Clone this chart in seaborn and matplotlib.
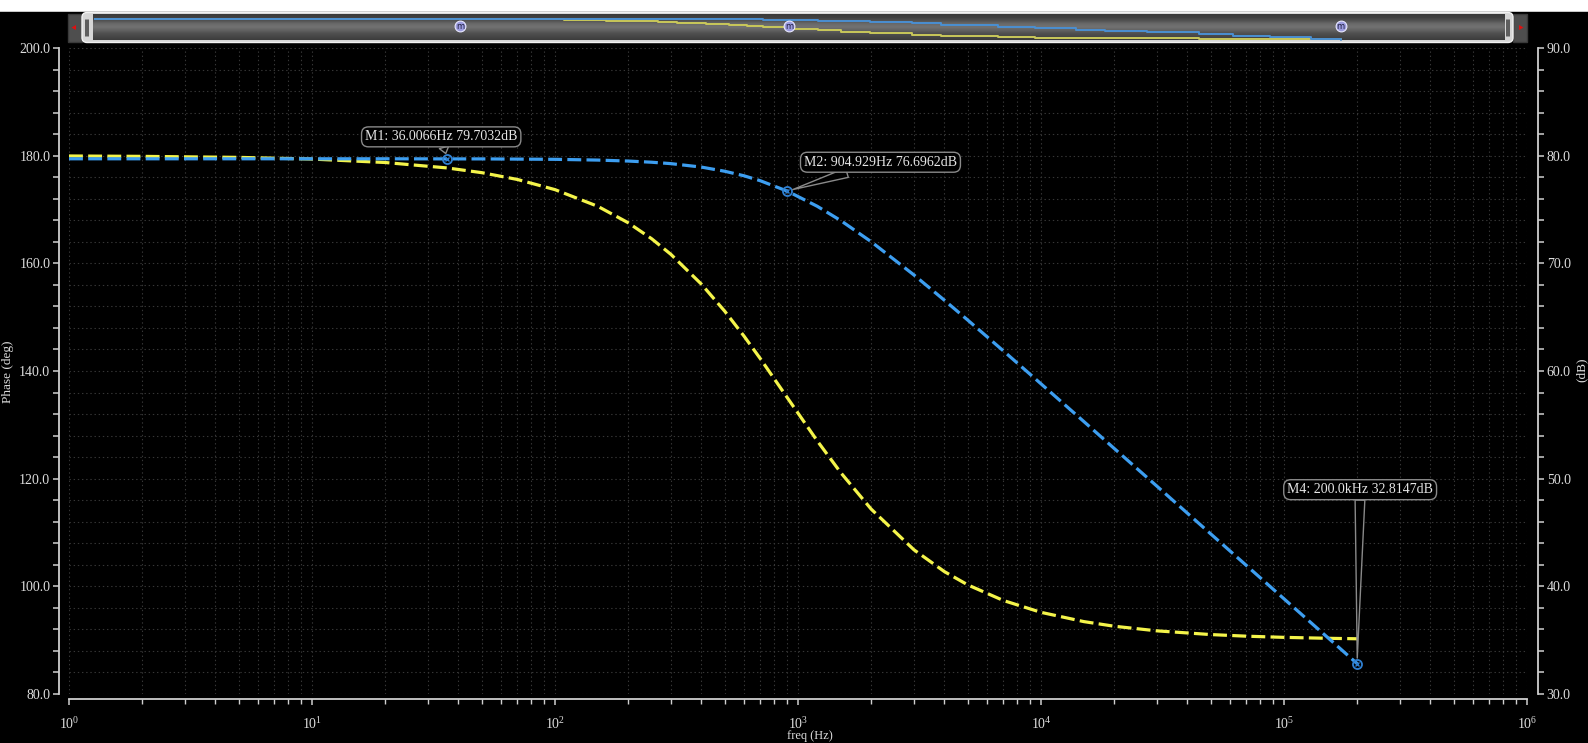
import numpy as np
import pandas as pd
import matplotlib
matplotlib.use("Agg")
import matplotlib.pyplot as plt
import matplotlib.ticker as mticker
import matplotlib.transforms as mtransforms
from matplotlib.patches import Rectangle, FancyBboxPatch, Polygon
import seaborn as sns

# ---------------- data ----------------
freq_hz = [1, 2, 5, 10, 20, 36, 50, 70, 100, 150, 200, 250, 300, 400, 500, 600, 700, 905,
           1200, 1500, 2000, 3000, 4000, 5000, 7000, 10000, 15000, 20000, 30000, 50000,
           70000, 100000, 150000, 200000]
phase_deg = [179.94, 179.87, 179.68, 179.37, 178.73, 177.72, 176.84, 175.58, 173.69, 170.59,
             167.54, 164.56, 161.66, 156.15, 151.08, 146.46, 142.28, 135.00, 127.02, 121.11,
             114.35, 106.79, 102.75, 100.26, 97.37, 95.17, 93.45, 92.59, 91.73, 91.04,
             90.74, 90.52, 90.35, 90.26]
mag_db = [79.71, 79.71, 79.71, 79.71, 79.71, 79.70, 79.70, 79.68, 79.66, 79.59,
          79.50, 79.39, 79.26, 78.94, 78.55, 78.13, 77.67, 76.70, 75.30, 73.97,
          72.01, 68.92, 66.58, 64.72, 61.87, 58.81, 55.31, 52.81, 49.30, 44.86,
          41.94, 38.84, 35.32, 32.82]

marker_freq = [36.0066, 904.929, 200000.0]
marker_db = [79.7032, 76.6962, 32.8147]
marker_labels = ["M1: 36.0066Hz 79.7032dB", "M2: 904.929Hz 76.6962dB", "M4: 200.0kHz 32.8147dB"]

freq_decades = [1e0, 1e1, 1e2, 1e3, 1e4, 1e5, 1e6]
phase_ticks = [80, 100, 120, 140, 160, 180, 200]
db_ticks = [30, 40, 50, 60, 70, 80, 90]

df = pd.DataFrame({"freq": freq_hz, "phase": phase_deg, "mag": mag_db})

# ---------------- style ----------------
sns.set_theme(style="dark", rc={
    "figure.facecolor": "black", "axes.facecolor": "black",
    "savefig.facecolor": "black", "lines.scale_dashes": False,
})
plt.rcParams["font.family"] = ["Liberation Serif", "DejaVu Serif"]
plt.rcParams["mathtext.fontset"] = "custom"
plt.rcParams["mathtext.rm"] = "Liberation Serif"
plt.rcParams["mathtext.default"] = "regular"

W, H = 1588, 743
fig = plt.figure(figsize=(W / 100, H / 100), dpi=100)
fig.patch.set_facecolor("black")

def px(x0, y0, x1, y1):
    return [x0 / W, 1 - y1 / H, (x1 - x0) / W, (y1 - y0) / H]

YEL = "#f4f44a"
BLU = "#3d9ef0"
TXT = "#dcdcdc"
AXC = "#cfcfcf"
GRID = "#363636"

ax = fig.add_axes(px(69, 48, 1527, 694))
ax.set_facecolor("black")
ax2 = ax.twinx()
ax2.patch.set_visible(False)

sns.lineplot(data=df, x="freq", y="phase", ax=ax, color=YEL, lw=2.3, zorder=3)
sns.lineplot(data=df, x="freq", y="mag", ax=ax2, color=BLU, lw=2.3, zorder=3)
for ln in ax.lines + ax2.lines:
    ln.set_dashes([10, 3.8])

ax.set_xscale("log")
ax.set_xlim(freq_decades[0], freq_decades[-1])
ax.set_ylim(80, 200)
ax2.set_ylim(30, 90)
ax.set_xlabel("")
ax.set_ylabel("")
ax2.set_ylabel("")

minor_x = [m * d for d in freq_decades[:-1] for m in range(2, 10)]
ax.xaxis.set_major_locator(mticker.FixedLocator(freq_decades))
ax.xaxis.set_minor_locator(mticker.FixedLocator(minor_x))
ax.xaxis.set_major_formatter(mticker.FixedFormatter(
    [f"$10^{{{int(np.log10(v))}}}$" for v in freq_decades]))
ax.xaxis.set_minor_formatter(mticker.NullFormatter())

ax.set_yticks(phase_ticks)
ax.set_yticklabels([f"{v:.1f}" for v in phase_ticks])
ax.yaxis.set_minor_locator(mticker.MultipleLocator(4))
ax2.set_yticks(db_ticks)
ax2.set_yticklabels([f"{v:.1f}" for v in db_ticks])
ax2.yaxis.set_minor_locator(mticker.MultipleLocator(2))

ax.grid(which="both", axis="both", color=GRID, ls=(0, (1, 2)), lw=0.8, zorder=0)
ax2.grid(False)

for s in ["top", "right"]:
    ax.spines[s].set_visible(False)
for s in ["top", "left", "bottom"]:
    ax2.spines[s].set_visible(False)
ax.spines["left"].set_position(("outward", 7.2))
ax.spines["bottom"].set_position(("outward", 3.6))
ax2.spines["right"].set_position(("outward", 7.9))
for sp in [ax.spines["left"], ax.spines["bottom"], ax2.spines["right"]]:
    sp.set_visible(True)
    sp.set_color(AXC)
    sp.set_linewidth(1.3)

ax.tick_params(axis="y", which="both", direction="out", length=4.3, width=1.1,
               color=AXC, labelcolor=TXT, labelsize=10, pad=2, left=True)
ax.tick_params(axis="x", which="major", direction="out", length=4.5, width=1.1,
               color=AXC, labelcolor=TXT, labelsize=10, pad=8, bottom=True)
ax.tick_params(axis="x", which="minor", direction="out", length=3.8, width=1.0,
               color=AXC, bottom=True)
ax2.tick_params(axis="y", which="both", direction="out", length=4.3, width=1.1,
                color=AXC, labelcolor=TXT, labelsize=10, pad=2, right=True)

fig.text(8 / W, 1 - 372 / H, "Phase (deg)", rotation=90, ha="center", va="center",
         color=TXT, fontsize=9.5)
fig.text(1582 / W, 1 - 370 / H, "(dB)", rotation=90, ha="center", va="center",
         color=TXT, fontsize=9.5)
fig.text(810 / W, 0.5 / H, "freq (Hz)", ha="center", va="bottom", color=TXT, fontsize=9)

# markers
ax2.plot(marker_freq, marker_db, ls="none", marker="o", ms=6.5, mfc="none",
         mec="#2f7fd0", mew=1.3, zorder=5)
ax2.plot(marker_freq, marker_db, ls="none", marker="x", ms=3.5, mec="#2f7fd0",
         mew=1.0, zorder=5)

offsets = [(-6, 22), (93, 29), (3, 174)]
for f, d, lab, (dx, dy) in zip(marker_freq, marker_db, marker_labels, offsets):
    ax2.annotate(lab, xy=(f, d), xytext=(dx, dy), textcoords="offset pixels",
                 ha="center", va="center", fontsize=10, color="#e6e6e6", zorder=6,
                 bbox=dict(boxstyle="round,pad=0.25,rounding_size=0.5", fc="black",
                           ec="#8a8a8a", lw=1),
                 arrowprops=dict(arrowstyle="wedge,tail_width=0.7,shrink_factor=0.5",
                                 fc="black", ec="#8a8a8a", lw=1, shrinkA=0, shrinkB=4))

# ---------------- top overview scrollbar ----------------
chrome = fig.add_axes([0, 0, 1, 1], zorder=-1)
chrome.set_xlim(0, W)
chrome.set_ylim(H, 0)
chrome.axis("off")
chrome.add_patch(Rectangle((0, 0), W, 11, fc="white", ec="none"))
chrome.add_patch(Rectangle((0, 10.5), W, 1, fc="#c8c8c8", ec="none"))
# end buttons
chrome.add_patch(Rectangle((68, 14), 14, 28, fc="#4e4e4e", ec="#3a3a3a"))
chrome.add_patch(Rectangle((1513, 14), 14, 28, fc="#4e4e4e", ec="#3a3a3a"))
chrome.add_patch(Polygon([[71.5, 27.5], [76, 25], [76, 30]], fc="#e01010", ec="none"))
chrome.add_patch(Polygon([[1523.5, 27.5], [1519, 25], [1519, 30]], fc="#e01010", ec="none"))
# thumb frame
chrome.add_patch(FancyBboxPatch((82, 12.5), 1431, 30, boxstyle="round,pad=0,rounding_size=5",
                                fc="#d6d6d6", ec="#f2f2f2", lw=1))
grad_stops = np.array([0x3a, 0x40, 0x52, 0x6a, 0x72, 0x62, 0x50, 0x46, 0x3c]) / 255.0
grad = np.interp(np.linspace(0, 1, 60), np.linspace(0, 1, len(grad_stops)), grad_stops)
img = np.repeat(grad[:, None], 2, axis=1)
chrome.imshow(np.dstack([img, img, img]), extent=(93, 1505, 40.5, 14.5), aspect="auto",
              interpolation="bilinear", zorder=2)
for gx in [85.5, 88, 1506.5, 1509]:
    chrome.plot([gx, gx], [20, 36], color="#3a3a3a", lw=1.1, zorder=3)

ov = fig.add_axes(px(94, 14, 1505, 41), zorder=2)
ov.patch.set_visible(False)
ov2 = ov.twinx()
ov2.patch.set_visible(False)
ov.plot(freq_hz, phase_deg, color="#c9c85a", lw=1.4, drawstyle="steps-post")
ov2.plot(freq_hz, mag_db, color="#4a8fd2", lw=1.4, drawstyle="steps-post")
ov.set_xscale("log")
ov.set_xlim(freq_decades[0], freq_decades[-1])
ov.set_ylim(80, 200)
ov2.set_ylim(30, 90)
for a in (ov, ov2):
    a.axis("off")
trans = mtransforms.blended_transform_factory(ov2.transData, ov2.transAxes)
ov2.scatter(marker_freq, [0.55] * len(marker_freq), transform=trans, s=60,
            c="#9c9ce0", edgecolors="#e8e8ff", linewidths=0.8, zorder=5, clip_on=False)
for f in marker_freq:
    ov2.text(f, 0.55, "m", transform=trans, ha="center", va="center", fontsize=6,
             color="#202040", zorder=6, family="DejaVu Sans")

fig.savefig("out.png", dpi=100, facecolor="black")
